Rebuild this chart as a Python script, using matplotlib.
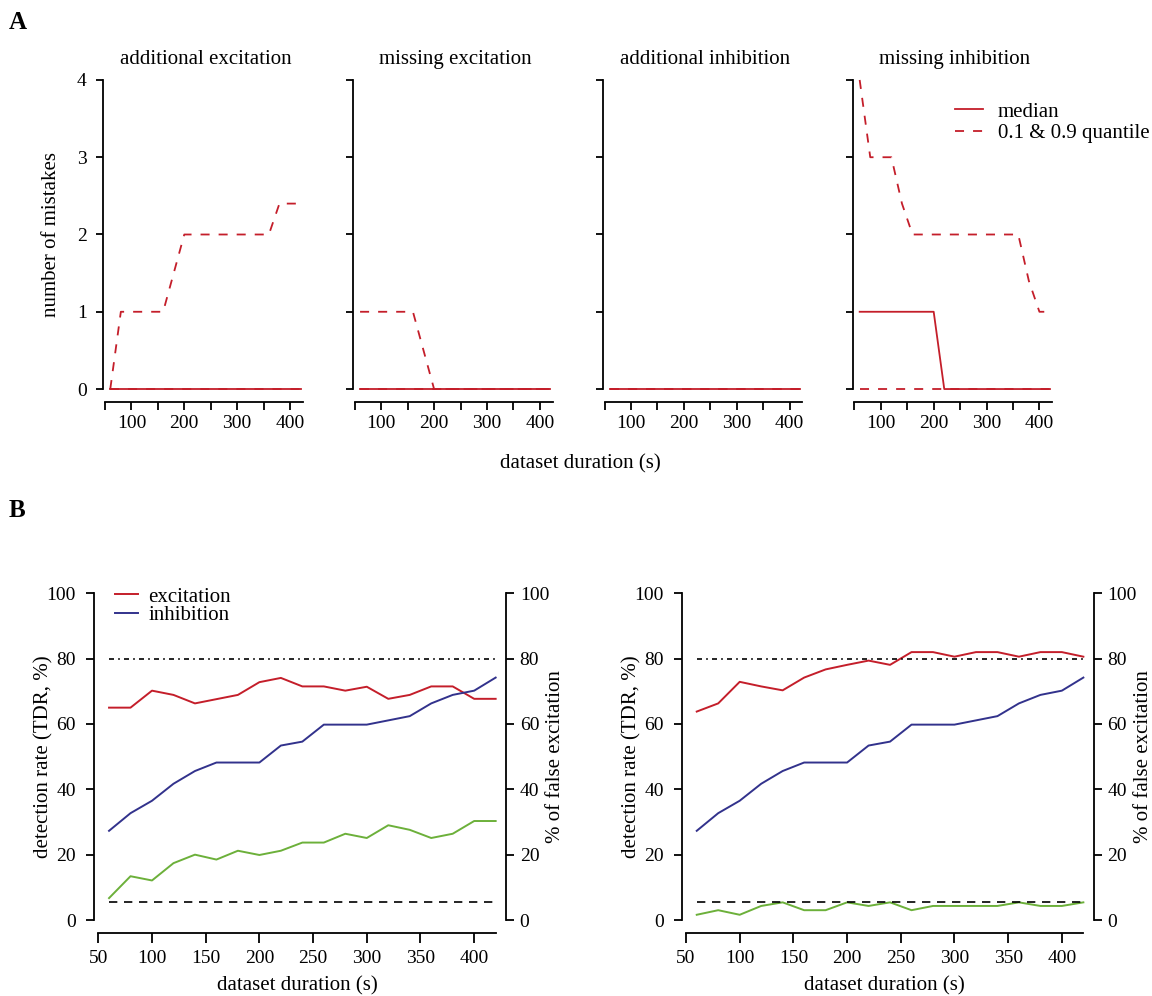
import matplotlib
matplotlib.use("Agg")
import matplotlib.pyplot as plt
import matplotlib.transforms as mtransforms
from matplotlib.lines import Line2D

plt.rcParams['font.family'] = ['Liberation Serif', 'DejaVu Serif']
plt.rcParams['font.size'] = 15

# ---- data ----
duration = [60, 80, 100, 120, 140, 160, 180, 200, 220, 240,
            260, 280, 300, 320, 340, 360, 380, 400, 420]

titles_a = ["additional excitation", "missing excitation",
            "additional inhibition", "missing inhibition"]

median_a = [
    [0, 0, 0, 0, 0, 0, 0, 0, 0, 0, 0, 0, 0, 0, 0, 0, 0, 0, 0],
    [0, 0, 0, 0, 0, 0, 0, 0, 0, 0, 0, 0, 0, 0, 0, 0, 0, 0, 0],
    [0, 0, 0, 0, 0, 0, 0, 0, 0, 0, 0, 0, 0, 0, 0, 0, 0, 0, 0],
    [1, 1, 1, 1, 1, 1, 1, 1, 0, 0, 0, 0, 0, 0, 0, 0, 0, 0, 0],
]
q10_a = [
    [0, 0, 0, 0, 0, 0, 0, 0, 0, 0, 0, 0, 0, 0, 0, 0, 0, 0, 0],
    [0, 0, 0, 0, 0, 0, 0, 0, 0, 0, 0, 0, 0, 0, 0, 0, 0, 0, 0],
    [0, 0, 0, 0, 0, 0, 0, 0, 0, 0, 0, 0, 0, 0, 0, 0, 0, 0, 0],
    [0, 0, 0, 0, 0, 0, 0, 0, 0, 0, 0, 0, 0, 0, 0, 0, 0, 0, 0],
]
q90_a = [
    [0, 1, 1, 1, 1, 1, 1.5, 2, 2, 2, 2, 2, 2, 2, 2, 2, 2.4, 2.4, 2.4],
    [1, 1, 1, 1, 1, 1, 0.5, 0, 0, 0, 0, 0, 0, 0, 0, 0, 0, 0, 0],
    [0, 0, 0, 0, 0, 0, 0, 0, 0, 0, 0, 0, 0, 0, 0, 0, 0, 0, 0],
    [4, 3, 3, 3, 2.4, 2, 2, 2, 2, 2, 2, 2, 2, 2, 2, 2, 1.4, 1, 1],
]

exc_left = [65.0, 65.0, 70.2, 68.9, 66.3, 67.6, 68.9, 72.8, 74.1, 71.5,
            71.5, 70.2, 71.4, 67.7, 68.9, 71.5, 71.5, 67.7, 67.7]
exc_right = [63.8, 66.3, 72.9, 71.5, 70.3, 74.2, 76.7, 78.1, 79.4, 78.1,
             82.0, 82.0, 80.6, 82.0, 82.0, 80.6, 82.0, 82.0, 80.6]
inh_b = [27.3, 32.7, 36.5, 41.7, 45.6, 48.2, 48.2, 48.2, 53.4, 54.6,
         59.8, 59.8, 59.8, 61.1, 62.4, 66.3, 68.9, 70.2, 74.2]
false_left = [6.7, 13.4, 12.1, 17.4, 20.0, 18.5, 21.2, 19.9, 21.2, 23.7,
              23.7, 26.4, 25.1, 29.0, 27.6, 25.1, 26.4, 30.3, 30.3]
false_right = [1.6, 3.0, 1.6, 4.3, 5.4, 3.0, 3.0, 5.4, 4.3, 5.4,
               3.0, 4.3, 4.3, 4.3, 4.3, 5.4, 4.3, 4.3, 5.4]
tdr_target = 80
false_target = 5.4

RED = '#c41e2a'
BLUE = '#32328c'
GREEN = '#6cb03a'

W, H = 1152, 996
fig = plt.figure(figsize=(W / 100, H / 100), dpi=100)


def rect(left, top, width, height):
    return [left / W, 1 - (top + height) / H, width / W, height / H]


def fx(p):
    return p / W


def fy(p):
    return 1 - p / H


# ---- panel A ----
a_lefts = [103.4, 353.2, 603.0, 852.8]
for i in range(4):
    ax = fig.add_axes(rect(a_lefts[i], 76.1, 199.3, 316.8))
    ax.plot(duration, median_a[i], color=RED, lw=1.3, clip_on=False)
    ax.plot(duration, q10_a[i], color=RED, lw=1.3, ls=(0, (5, 5)), clip_on=False)
    ax.plot(duration, q90_a[i], color=RED, lw=1.3, ls=(0, (5, 5)), clip_on=False)
    ax.set_xlim(47, 424)
    ax.set_ylim(-0.05, 4.05)
    for s in ['top', 'right']:
        ax.spines[s].set_visible(False)
    ax.spines['left'].set_bounds(0, 4)
    ax.spines['bottom'].set_bounds(50, 424)
    ax.spines['bottom'].set_position(('outward', 6.6))
    for s in ['left', 'bottom']:
        ax.spines[s].set_linewidth(1.3)
    ax.set_xticks([50, 100, 150, 200, 250, 300, 350, 400])
    ax.set_xticklabels(['', '100', '', '200', '', '300', '', '400'])
    ax.set_yticks([0, 1, 2, 3, 4])
    if i == 0:
        ax.set_yticklabels(['0', '1', '2', '3', '4'])
    else:
        ax.set_yticklabels([])
    ax.tick_params(axis='y', length=5, width=1.3, pad=7, labelsize=14)
    ax.tick_params(axis='x', length=5.5, width=1.3, pad=3.5, labelsize=14)
    trans = mtransforms.blended_transform_factory(ax.transData, fig.transFigure)
    ax.text(240, fy(64), titles_a[i], transform=trans,
            ha='center', va='baseline', fontsize=15)

fig.text(fx(52), fy(234.5), "number of mistakes", rotation=90,
         ha='center', va='center', fontsize=15)
fig.text(fx(580), fy(464), "dataset duration (s)", ha='center', va='center', fontsize=15)

handles_a = [Line2D([], [], color=RED, lw=1.3),
             Line2D([], [], color=RED, lw=1.3, ls=(0, (5, 5)))]
fig.legend(handles_a, ["median", "0.1 & 0.9 quantile"], loc='upper left',
           bbox_to_anchor=(fx(955), fy(102)), frameon=False, borderpad=0,
           borderaxespad=0, handlelength=1.35, handletextpad=0.7,
           labelspacing=0.09, fontsize=15)

fig.text(fx(9), fy(29.3), "A", fontsize=18, fontweight='bold', ha='left', va='baseline')
fig.text(fx(9), fy(517), "B", fontsize=18, fontweight='bold', ha='left', va='baseline')

# ---- panel B ----
b_lefts = [94.0, 681.7]
exc_b = [exc_left, exc_right]
false_b = [false_left, false_right]
for i in range(2):
    ax = fig.add_axes(rect(b_lefts[i], 593.3, 412.4, 326.7))
    ax2 = ax.twinx()
    l1, = ax.plot(duration, exc_b[i], color=RED, lw=1.4)
    l2, = ax.plot(duration, inh_b, color=BLUE, lw=1.4)
    ax.plot([duration[0], duration[-1]], [tdr_target, tdr_target], color='black',
            lw=1.2, ls=(0, (3, 2.5, 1, 2.5)))
    ax2.plot(duration, false_b[i], color=GREEN, lw=1.4)
    ax2.plot([duration[0], duration[-1]], [false_target, false_target], color='black',
             lw=1.2, ls=(0, (5, 4)))
    ax.set_xlim(46, 430)
    ax.set_ylim(0, 100)
    ax2.set_ylim(0, 100)
    for s in ['top', 'right']:
        ax.spines[s].set_visible(False)
    for s in ['top', 'left', 'bottom']:
        ax2.spines[s].set_visible(False)
    ax.spines['left'].set_bounds(0, 100)
    ax2.spines['right'].set_bounds(0, 100)
    ax.spines['bottom'].set_bounds(50, 420)
    ax.spines['bottom'].set_position(('outward', 9.6))
    ax.spines['left'].set_linewidth(1.3)
    ax.spines['bottom'].set_linewidth(1.3)
    ax2.spines['right'].set_linewidth(1.3)
    ax.set_xticks([50, 100, 150, 200, 250, 300, 350, 400])
    ax.set_yticks([0, 20, 40, 60, 80, 100])
    ax2.set_yticks([0, 20, 40, 60, 80, 100])
    ax.tick_params(axis='x', length=7.2, width=1.3, pad=5, labelsize=14)
    ax.tick_params(axis='y', length=6, width=1.3, pad=7, labelsize=14)
    ax2.tick_params(axis='y', length=5.6, width=1.3, pad=4, labelsize=14)
    base = b_lefts[i]
    fig.text(fx(base - 50), fy(756.5), "detection rate (TDR, %)", rotation=90,
             ha='center', va='center', fontsize=15)
    fig.text(fx(base + 462), fy(756.5), "% of false excitation", rotation=90,
             ha='center', va='center', fontsize=15)
    fig.text(fx(base + 203), fy(986), "dataset duration (s)",
             ha='center', va='center', fontsize=15)
    if i == 0:
        ax.legend([l1, l2], ["excitation", "inhibition"], loc='upper left',
                  bbox_to_anchor=(fx(115), fy(587)), bbox_transform=fig.transFigure,
                  frameon=False, borderpad=0, borderaxespad=0, handlelength=1.1,
                  handletextpad=0.5, labelspacing=-0.04, fontsize=15)

fig.savefig("out.png", dpi=100)
